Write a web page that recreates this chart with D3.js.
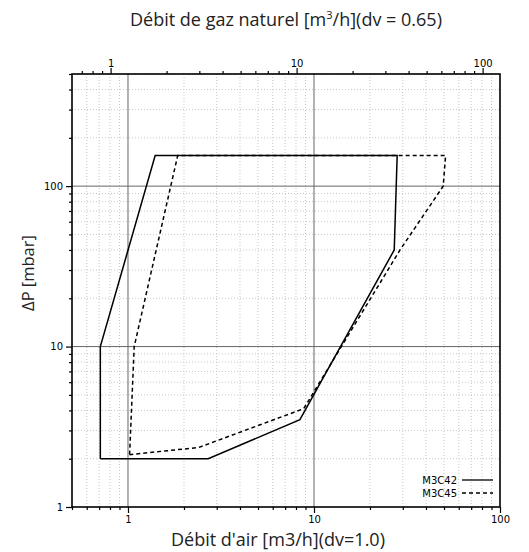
<!DOCTYPE html>
<html>
<head>
<meta charset="utf-8">
<script src="https://cdn.jsdelivr.net/npm/d3@7"></script>
<style>
  body { margin: 0; background: #fff; }
  text { font-family: "DejaVu Sans", sans-serif; }
  .title { font-family: "Open Sans", sans-serif; font-size: 18px; fill: #222; }
</style>
</head>
<body>
<svg width="529" height="552"></svg>
<script>
var m3c42Air = [0.71, 0.71, 1.4, 28, 27, 8.4, 2.7, 0.71];
var m3c42Dp  = [2.0, 10, 155, 155, 40, 3.5, 2.0, 2.0];
var m3c45Air = [1.02, 1.08, 1.85, 51, 49.5, 29, 8.8, 2.4, 1.02];
var m3c45Dp  = [2.12, 10, 155, 155, 100, 40, 4.1, 2.35, 2.12];
var seriesNames = ["M3C42", "M3C45"];
var xLabels = [1, 10, 100];
var yLabels = [1, 10, 100];
var gasFactor = Math.sqrt(1 / 0.65);

var svg = d3.select("svg");
var pL = 72, pR = 500, pT = 74, pB = 507;

var x = d3.scaleLog().domain([0.5, 100]).range([pL, pR]);
var y = d3.scaleLog().domain([1, 500]).range([pB, pT]);
var xGas = d3.scaleLog().domain([0.5 * gasFactor, 100 * gasFactor]).range([pL, pR]);

function minors(lo, hi) {
  var out = [];
  for (var e = -1; e <= 2; e++) {
    for (var m = 1; m < 10; m++) {
      var v = m * Math.pow(10, e);
      if (v >= lo * 0.9999 && v <= hi * 1.0001) out.push(+v.toPrecision(3));
    }
  }
  return out;
}
var xMinor = minors(0.5, 100).filter(function(v) { return xLabels.indexOf(v) < 0; });
var yMinor = minors(1, 500).filter(function(v) { return yLabels.indexOf(v) < 0; });
var gMinor = minors(0.5 * gasFactor, 100 * gasFactor).filter(function(v) { return xLabels.indexOf(v) < 0; });

// grid
var grid = svg.append("g");
grid.selectAll(".vx").data(xMinor).enter().append("line")
  .attr("x1", d => x(d)).attr("x2", d => x(d)).attr("y1", pT).attr("y2", pB)
  .attr("stroke", "#c8c8c8").attr("stroke-dasharray", "1,2");
grid.selectAll(".hy").data(yMinor).enter().append("line")
  .attr("y1", d => y(d)).attr("y2", d => y(d)).attr("x1", pL).attr("x2", pR)
  .attr("stroke", "#c8c8c8").attr("stroke-dasharray", "1,2");
grid.selectAll(".vmaj").data([1, 10]).enter().append("line")
  .attr("x1", d => x(d)).attr("x2", d => x(d)).attr("y1", pT).attr("y2", pB)
  .attr("stroke", "#666").attr("stroke-width", 1);
grid.selectAll(".hmaj").data([10, 100]).enter().append("line")
  .attr("y1", d => y(d)).attr("y2", d => y(d)).attr("x1", pL).attr("x2", pR)
  .attr("stroke", "#666").attr("stroke-width", 1);

// axes
var fmt = d => xLabels.indexOf(d) >= 0 ? String(d) : "";
var ax = svg.append("g").attr("transform", "translate(0," + pB + ")")
  .call(d3.axisBottom(x).tickValues(xLabels.concat(xMinor)).tickFormat(fmt).tickSizeOuter(0));
ax.selectAll(".tick line").attr("y2", d => xLabels.indexOf(d) >= 0 ? 6 : 3);

var ay = svg.append("g").attr("transform", "translate(" + pL + ",0)")
  .call(d3.axisLeft(y).tickValues(yLabels.concat(yMinor)).tickFormat(d => yLabels.indexOf(d) >= 0 ? String(d) : "").tickSizeOuter(0));
ay.selectAll(".tick line").attr("x2", d => yLabels.indexOf(d) >= 0 ? -6 : -3);

var at = svg.append("g").attr("transform", "translate(0," + pT + ")")
  .call(d3.axisTop(xGas).tickValues(xLabels.concat(gMinor)).tickFormat(fmt).tickSizeOuter(0).tickPadding(1));
at.selectAll(".tick line").attr("y2", d => xLabels.indexOf(d) >= 0 ? -6 : -3);

[ax, ay, at].forEach(function(g) {
  g.select(".domain").remove();
  g.selectAll(".tick line").attr("stroke", "#000").attr("stroke-width", 1.2);
  g.selectAll(".tick text").attr("font-size", 10).attr("font-family", "DejaVu Sans").attr("fill", "#000");
});

// frame
svg.append("rect").attr("x", pL).attr("y", pT).attr("width", pR - pL).attr("height", pB - pT)
  .attr("fill", "none").attr("stroke", "#000").attr("stroke-width", 1.6);

// curves
var line = d3.line().x(d => x(d[0])).y(d => y(d[1]));
svg.append("path").datum(d3.zip(m3c42Air, m3c42Dp)).attr("d", line)
  .attr("fill", "none").attr("stroke", "#000").attr("stroke-width", 1.5);
svg.append("path").datum(d3.zip(m3c45Air, m3c45Dp)).attr("d", line)
  .attr("fill", "none").attr("stroke", "#000").attr("stroke-width", 1.5).attr("stroke-dasharray", "4,3");

// legend
var leg = svg.append("g");
seriesNames.forEach(function(n, i) {
  var ly = 480 + i * 13;
  leg.append("text").attr("x", 457).attr("y", ly).attr("dy", "0.35em").attr("text-anchor", "end")
    .attr("font-size", 10).text(n);
  leg.append("line").attr("x1", 462).attr("x2", 493).attr("y1", ly).attr("y2", ly)
    .attr("stroke", "#000").attr("stroke-width", 1.3).attr("stroke-dasharray", i ? "4,3" : null);
});

// titles
svg.append("text").attr("class", "title").attr("x", 286).attr("y", 26).attr("text-anchor", "middle")
  .html('Débit de gaz naturel [m<tspan baseline-shift="super" font-size="11">3</tspan>/h](dv = 0.65)');
svg.append("text").attr("class", "title").attr("x", 278).attr("y", 546).attr("text-anchor", "middle")
  .text("Débit d'air [m3/h](dv=1.0)");
svg.append("text").attr("class", "title").attr("transform", "translate(34,273) rotate(-90)")
  .attr("text-anchor", "middle").style("font-size", "16.5px").text("ΔP [mbar]");
</script>
</body>
</html>
